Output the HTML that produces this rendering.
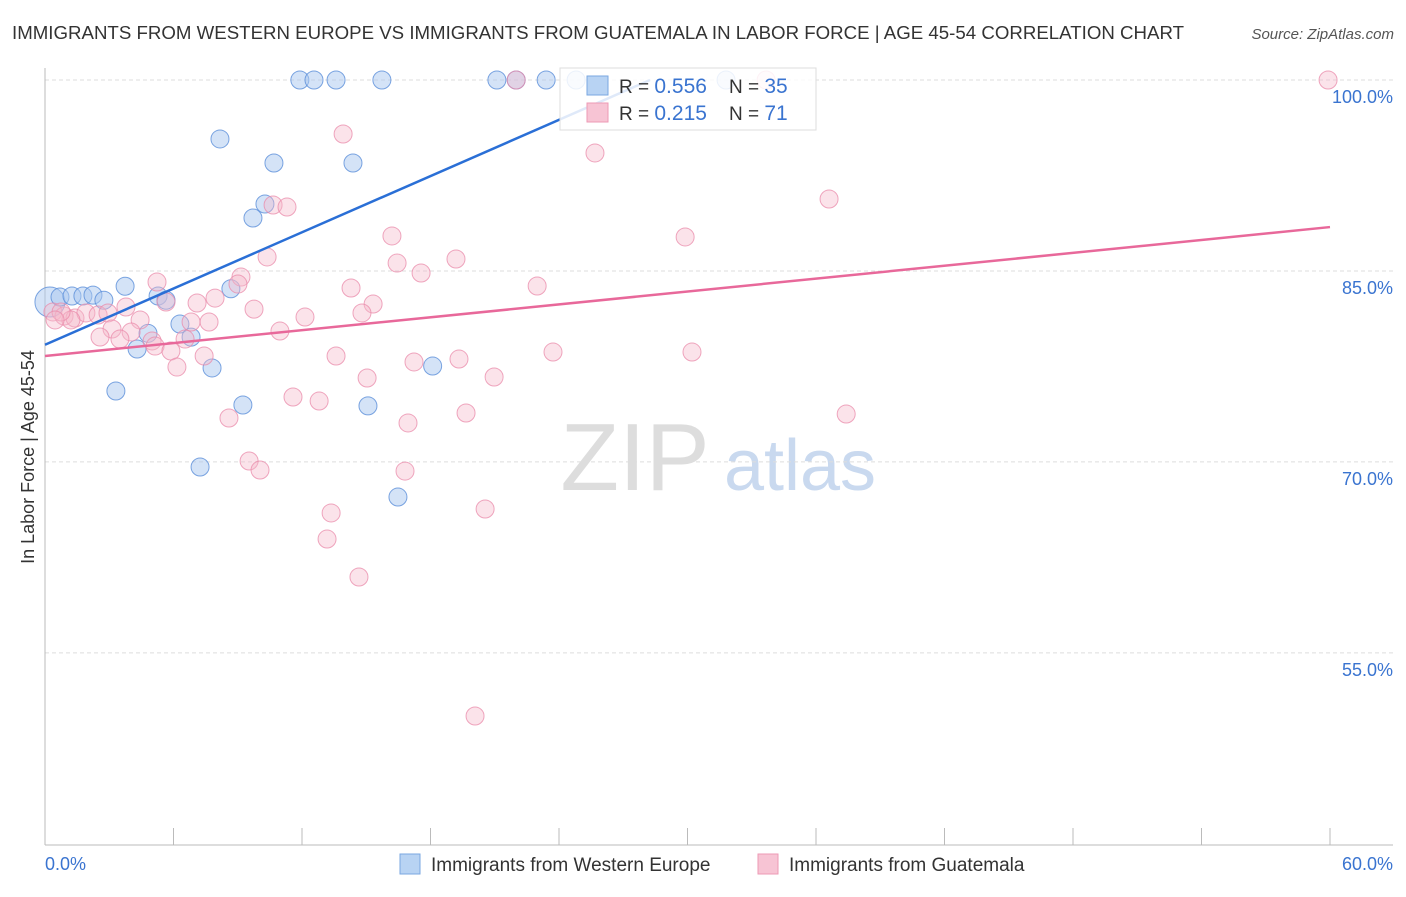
<!DOCTYPE html>
<html><head><meta charset="utf-8"><style>
body{margin:0;background:#fff;font-family:"Liberation Sans",sans-serif;}
svg text{font-family:"Liberation Sans",sans-serif;}
</style></head><body>
<svg id="chart" width="1406" height="892" viewBox="0 0 1406 892" xmlns="http://www.w3.org/2000/svg">
<text x="12" y="39" font-size="18.5" fill="#333" textLength="1172" lengthAdjust="spacingAndGlyphs">IMMIGRANTS FROM WESTERN EUROPE VS IMMIGRANTS FROM GUATEMALA IN LABOR FORCE | AGE 45-54 CORRELATION CHART</text>
<text x="1394" y="39" font-size="15" fill="#555" text-anchor="end" font-style="italic">Source: ZipAtlas.com</text>
<g>
<text x="635" y="490" font-size="96" fill="#ddd" text-anchor="middle" font-family="Liberation Serif">ZIP</text>
<text x="800" y="490" font-size="72" fill="#c9d9ef" text-anchor="middle">atlas</text>
</g>
<g id="grid"></g><g id="axes"></g><g id="points"></g><g id="trends"></g>
<text transform="translate(34,457) rotate(-90)" font-size="18" fill="#333" text-anchor="middle">In Labor Force | Age 45-54</text>
<g>
<rect x="560" y="68" width="256" height="62" fill="#fff" fill-opacity="0.85" stroke="#ddd"/>
<rect x="587" y="76" width="21" height="19" fill="#b8d3f3" stroke="#7aa7e0"/>
<rect x="587" y="103" width="21" height="19" fill="#f7c4d4" stroke="#ee9ab5"/>
<text x="619" y="93" font-size="19" fill="#333">R = <tspan fill="#3a74d0" font-size="21">0.556</tspan></text>
<text x="729" y="93" font-size="19" fill="#333">N = <tspan fill="#3a74d0" font-size="21">35</tspan></text>
<text x="619" y="120" font-size="19" fill="#333">R = <tspan fill="#3a74d0" font-size="21"> 0.215</tspan></text>
<text x="729" y="120" font-size="19" fill="#333">N = <tspan fill="#3a74d0" font-size="21"> 71</tspan></text>
</g>
<g>
<rect x="400" y="854" width="20" height="20" fill="#b8d3f3" stroke="#7aa7e0"/>
<text x="431" y="871" font-size="19" fill="#333">Immigrants from Western Europe</text>
<rect x="758" y="854" width="20" height="20" fill="#f7c4d4" stroke="#ee9ab5"/>
<text x="789" y="871" font-size="19" fill="#333">Immigrants from Guatemala</text>
</g>
</svg>
<script>
const yTicks=[100,85,70,55];
const yTickLabels=["100.0%","85.0%","70.0%","55.0%"];
const xTickLabels=["0.0%","60.0%"];
const blueX=[11.9,12.56,13.59,15.73,21.1,22.0,23.4,24.8,31.8,8.17,10.69,14.38,9.71,10.27,0.23,0.7,1.26,1.77,2.24,2.75,3.74,5.28,5.65,8.68,6.3,6.82,4.81,4.3,7.8,18.1,3.31,9.24,15.08,7.24,16.48];
const blueY=[100,100,100,100,100,100,100,100,100,95.37,93.48,93.48,89.16,90.26,82.56,82.95,83.03,83.03,83.1,82.7,83.8,83.03,82.7,83.6,80.83,79.8,80.1,78.87,77.38,77.53,75.57,74.47,74.4,69.6,67.24];
const pinkX=[22.0,33.67,59.91,13.92,25.68,36.61,10.65,11.3,29.89,16.2,10.37,19.19,16.44,17.56,9.15,5.23,9.01,22.98,14.29,7.94,5.65,15.32,7.1,9.76,3.78,12.14,14.8,0.37,0.89,1.4,1.91,2.48,2.94,4.44,6.82,7.66,10.97,3.13,4.02,3.5,6.54,5.0,5.14,5.88,13.59,7.43,19.33,23.72,30.21,17.23,6.16,15.04,20.97,11.58,12.8,19.66,37.41,8.59,16.95,9.53,10.04,16.81,13.36,20.55,13.17,14.66,20.08,1.21,0.75,2.57,0.47];
const pinkY=[100,100,100,95.76,94.27,90.65,90.18,90.02,87.67,87.75,86.1,85.94,85.62,84.84,84.52,84.13,83.97,83.82,83.66,82.87,82.56,82.4,82.48,82.0,82.17,81.38,81.7,81.78,81.46,81.3,81.7,81.54,81.7,81.15,80.99,80.99,80.28,80.44,80.2,79.65,79.65,79.5,79.1,78.71,78.32,78.32,78.08,78.63,78.63,77.85,77.45,76.59,76.67,75.1,74.78,73.84,73.76,73.45,73.06,70.07,69.36,69.28,65.99,66.3,63.94,60.96,50.04,81.15,81.78,79.81,81.15];
const blueTrend=[79.2,0.7363];
const pinkTrend=[78.32,0.1688];
const X=v=>45+v/60*1285;
const Y=v=>80+(100-v)*12.73;
const NS="http://www.w3.org/2000/svg";
function mk(p,t,a){const e=document.createElementNS(NS,t);for(const k in a)e.setAttribute(k,a[k]);document.getElementById(p).appendChild(e);return e;}
yTicks.forEach((t,i)=>{
 const g=mk('grid','line',{x1:45,x2:1393,y1:Y(t),y2:Y(t),stroke:'#ddd','stroke-dasharray':'4,3'});
 
 
 const l=mk('axes','text',{x:1393,y:Y(t)+23,'font-size':18,fill:'#3a74d0','text-anchor':'end'});
 l.textContent=yTickLabels[i];
 
 
});
const ya=mk('axes','line',{x1:45,x2:45,y1:68,y2:845,stroke:'#bbb'});


const xa=mk('axes','line',{x1:45,x2:1393,y1:845,y2:845,stroke:'#bbb'});


for(let i=0;i<=10;i++){
 const t=mk('axes','line',{x1:X(i*6),x2:X(i*6),y1:828,y2:845,stroke:'#bbb'});
 
 
}
[[0,'start',45],[60,'end',1393]].forEach((d,i)=>{
 const l=mk('axes','text',{x:d[2],y:870,'font-size':18,fill:'#3a74d0','text-anchor':d[1]});
 l.textContent=xTickLabels[i];
 
 
});
blueX.forEach((x,i)=>{
 const c=mk('points','circle',{cx:X(x),cy:Y(blueY[i]),r:i==14?15:9,fill:'#a9c8f0','fill-opacity':0.5,stroke:'#5b8fd9','stroke-opacity':0.8});
 
 
});
pinkX.forEach((x,i)=>{
 const c=mk('points','circle',{cx:X(x),cy:Y(pinkY[i]),r:9,fill:'#f5b8cb','fill-opacity':0.4,stroke:'#e98aa9','stroke-opacity':0.75});
 
 
});
const bEnd=Math.min(60,(100-blueTrend[0])/blueTrend[1]);
const bl=mk('trends','line',{x1:X(0),y1:Y(blueTrend[0]),x2:X(bEnd),y2:Y(blueTrend[0]+blueTrend[1]*bEnd),stroke:'#2a6fd6','stroke-width':2.5});


const pl=mk('trends','line',{x1:X(0),y1:Y(pinkTrend[0]),x2:X(60),y2:Y(pinkTrend[0]+pinkTrend[1]*60),stroke:'#e8689a','stroke-width':2.5});


</script>
</body></html>
